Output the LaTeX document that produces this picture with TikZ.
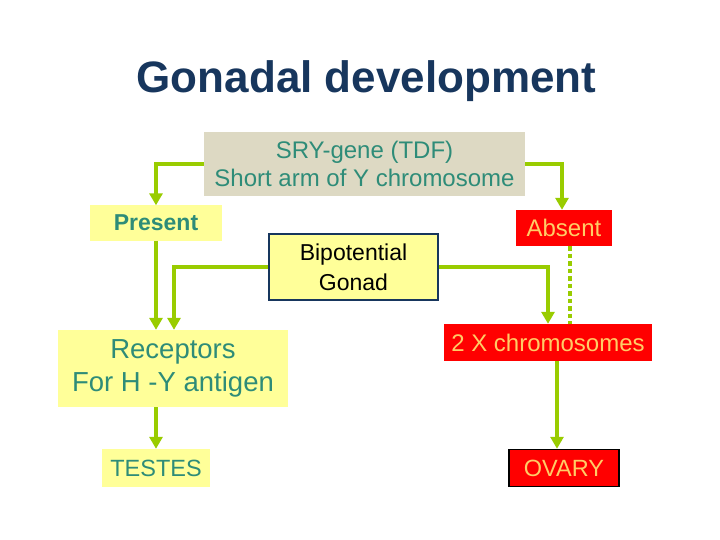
\documentclass[tikz,border=0pt]{standalone}
\usepackage{fontspec}
\setmainfont{Liberation Sans}
\usetikzlibrary{arrows.meta}
\definecolor{lgreen}{HTML}{99CC00}
\definecolor{teal2}{HTML}{2E8C78}
\definecolor{yfill}{HTML}{FFFF99}
\definecolor{beige}{HTML}{DDD9C3}
\definecolor{rfill}{HTML}{FF0000}
\definecolor{rtext}{HTML}{FFCC66}
\definecolor{navy}{HTML}{17365D}
\begin{document}
\begin{tikzpicture}[x=1pt,y=-1pt,
  box/.style={inner sep=0pt, align=center, text=teal2},
  ybox/.style={box, fill=yfill},
  rbox/.style={box, fill=rfill, text=rtext},
  arr/.style={draw=lgreen, line width=4.5pt, -{Triangle[width=13pt,length=12pt]}},
  ln/.style={draw=lgreen, line width=4.5pt}]
\useasboundingbox[fill=white] (0,0) rectangle (720,540);
\node[text=navy, font=\fontsize{44}{50}\selectfont\bfseries] (title) at (366.5,81) {Gonadal development};
\node[box, fill=beige, minimum width=321pt, minimum height=64pt, font=\fontsize{24}{28}\selectfont] (sry) at (364.5,164) {SRY-gene (TDF)\\Short arm of Y chromosome};
\node[ybox, minimum width=132pt, minimum height=35pt, font=\fontsize{23}{27}\selectfont\bfseries] (present) at (156,223) {Present};
\node[rbox, minimum width=96pt, minimum height=36pt, font=\fontsize{24}{28}\selectfont] (absent) at (564,228) {Absent};
\node[ybox, draw=navy, line width=1.5pt, text=black, minimum width=169pt, minimum height=66pt, font=\fontsize{23}{30}\selectfont] (bipot) at (353.5,267) {Bipotential\\Gonad};
\node[ybox, minimum width=230pt, minimum height=77pt, font=\fontsize{27.5}{33}\selectfont] (recep) at (173,368.5) {Receptors\\For H -Y antigen};
\node[rbox, minimum width=208pt, minimum height=37pt, font=\fontsize{24}{28}\selectfont] (twox) at (548,342.5) {2 X chromosomes};
\node[ybox, minimum width=108pt, minimum height=38pt, font=\fontsize{23.5}{28}\selectfont] (testes) at (156,468) {TESTES};
\node[rbox, draw=black, line width=1.5pt, minimum width=110pt, minimum height=37pt, font=\fontsize{23.5}{28}\selectfont] (ovary) at (564,468) {OVARY};
\draw[arr] (sry.west) -| (present.north);
\draw[arr] (sry.east) -| ([xshift=-2pt]absent.north);
\draw[arr] (present.south) -- (present.south |- recep.north);
\draw[arr] (bipot.west) -| ([xshift=1pt]recep.north);
\draw[arr] (bipot.east) -| (twox.north);
\draw[ln, dash pattern=on 4.5pt off 3pt] ([xshift=6pt]absent.south) -- ([xshift=6pt]absent.south |- twox.north);
\draw[arr] (recep.south -| testes.north) -- (testes.north);
\draw[arr] ([xshift=-7pt]ovary.north |- twox.south) -- ([xshift=-7pt]ovary.north);
\end{tikzpicture}
\end{document}
